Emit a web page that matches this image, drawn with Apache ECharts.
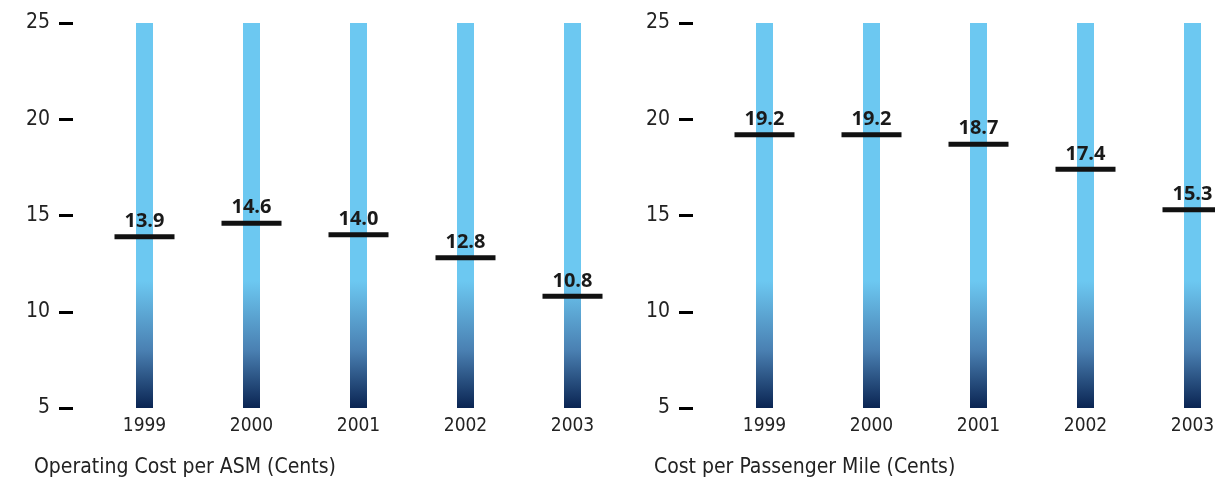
<!DOCTYPE html>
<html>
<head>
<meta charset="utf-8">
<script src="https://cdn.jsdelivr.net/npm/echarts@6/dist/echarts.min.js"></script>
<style>
html,body{margin:0;padding:0;background:#fff;}
#chart{width:1215px;height:484px;}
</style>
</head>
<body>
<div id="chart"></div>
<script>
const years = ['1999', '2000', '2001', '2002', '2003'];
const costPerASM = [13.9, 14.6, 14.0, 12.8, 10.8];
const costPerPassengerMile = [19.2, 19.2, 18.7, 17.4, 15.3];
const titles = ['Operating Cost per ASM (Cents)', 'Cost per Passenger Mile (Cents)'];
const yMin = 5, yMax = 25, yStep = 5;

const narrow = "'Liberation Sans Narrow', 'DejaVu Sans Condensed', sans-serif";
const barColor = {
  type: 'linear', x: 0, y: 0, x2: 0, y2: 1,
  colorStops: [
    { offset: 0, color: '#6CC8F1' },
    { offset: 0.67, color: '#6CC8F1' },
    { offset: 0.85, color: '#4A80B2' },
    { offset: 1, color: '#0A2452' }
  ]
};

const grids = [
  { left: 91, top: 23, width: 535, height: 385, outerBoundsMode: 'none', containLabel: false },
  { left: 711, top: 23, width: 535, height: 385, outerBoundsMode: 'none', containLabel: false }
];

function xAxisFor(i) {
  return {
    type: 'category', gridIndex: i, data: years,
    axisLine: { show: false }, axisTick: { show: false },
    axisLabel: { fontFamily: narrow, fontSize: 19, color: '#222', margin: 9 }
  };
}
function yAxisFor(i) {
  return {
    type: 'value', gridIndex: i, min: yMin, max: yMax, interval: yStep,
    offset: 18,
    splitLine: { show: false },
    axisLine: { show: false },
    axisTick: { show: true, inside: false, length: 14, lineStyle: { color: '#000', width: 3 } },
    axisLabel: { fontFamily: narrow, fontSize: 21, color: '#222', margin: 23 }
  };
}
function barSeries(i) {
  return {
    type: 'bar', xAxisIndex: i, yAxisIndex: i,
    data: years.map(() => yMax), barWidth: 17,
    itemStyle: { color: barColor }, silent: true, z: 1
  };
}
function markerSeries(i, values) {
  return {
    type: 'scatter', xAxisIndex: i, yAxisIndex: i,
    data: values, symbol: 'rect', symbolSize: [60, 5],
    itemStyle: { color: '#111', opacity: 1 }, silent: true, z: 3, clip: false,
    label: {
      show: true, position: 'top', distance: 3,
      formatter: p => p.value.toFixed(1),
      fontFamily: "'Open Sans', 'DejaVu Sans', sans-serif",
      fontWeight: 'bold', fontSize: 20, color: '#1A1A1A', opacity: 1
    }
  };
}

const chart = echarts.init(document.getElementById('chart'), null, { renderer: 'canvas' });
chart.setOption({
  animation: false,
  backgroundColor: '#fff',
  title: [
    { text: titles[0], left: 29, top: 452, textStyle: { fontFamily: narrow, fontSize: 21, fontWeight: 'normal', color: '#222' } },
    { text: titles[1], left: 649, top: 452, textStyle: { fontFamily: narrow, fontSize: 21, fontWeight: 'normal', color: '#222' } }
  ],
  grid: grids,
  xAxis: [xAxisFor(0), xAxisFor(1)],
  yAxis: [yAxisFor(0), yAxisFor(1)],
  series: [
    barSeries(0), markerSeries(0, costPerASM),
    barSeries(1), markerSeries(1, costPerPassengerMile)
  ]
});
</script>
</body>
</html>
